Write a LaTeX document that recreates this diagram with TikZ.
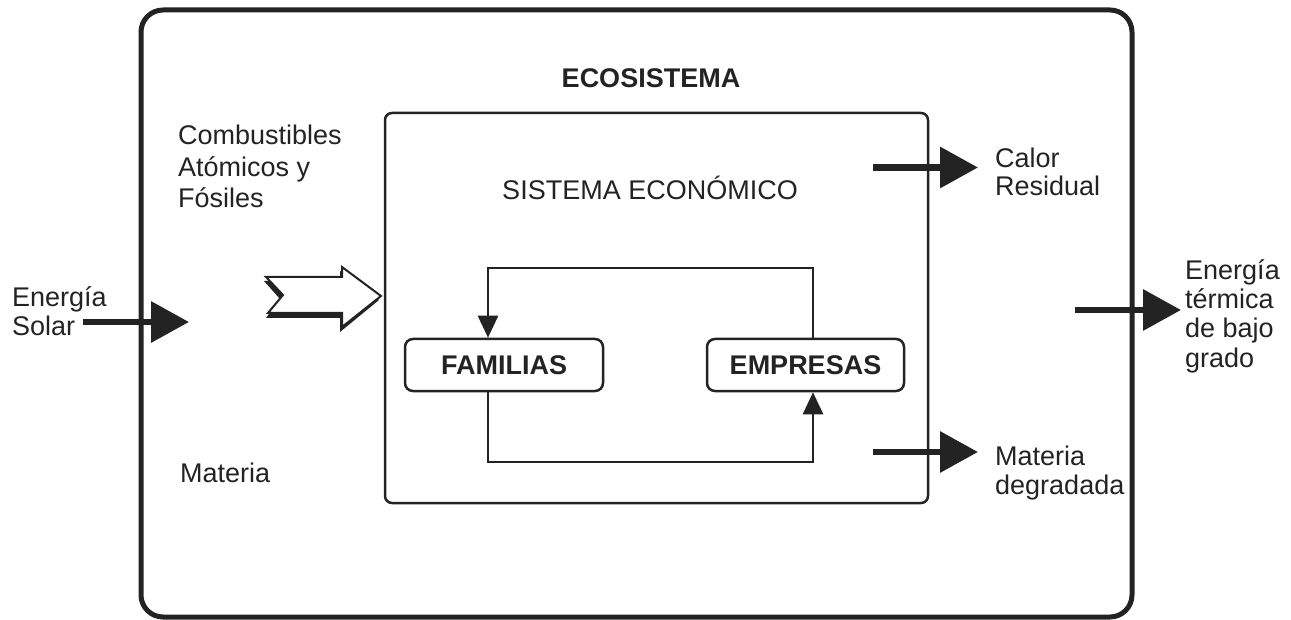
\documentclass[tikz,border=0pt]{standalone}
\usepackage{fontspec}
\setmainfont{Liberation Sans}
\usetikzlibrary{arrows.meta}
\definecolor{ink}{RGB}{35,35,35}
\begin{document}
\begin{tikzpicture}[x=1pt,y=-1pt,
  txt/.style={font=\fontsize{27}{29}\selectfont, inner sep=0pt, text=ink, anchor=base west},
  ctxt/.style={font=\fontsize{27}{29}\selectfont, inner sep=0pt, text=ink, anchor=base},
  boxnode/.style={draw=ink, line width=2.5pt, rounded corners=8pt, minimum height=52pt, inner sep=0pt,
                  font=\fontsize{27}{29}\selectfont\bfseries, text=ink},
  bigarrow/.style={draw=ink, line width=6.5pt, -{Triangle[length=38pt,width=40pt]}},
  loopline/.style={draw=ink, line width=2.5pt},
  looparrow/.style={draw=ink, line width=2.5pt, -{Triangle[length=22pt,width=20pt]}}]
\useasboundingbox (0,0) rectangle (1291,620);
% outer and inner frames
\draw[ink, line width=5pt, rounded corners=22pt] (141,10) rectangle (1132,617);
\draw[ink, line width=2.5pt, rounded corners=7pt] (385,113) rectangle (928,503);
% titles
\node[ctxt, font=\fontsize{27}{29}\selectfont\bfseries] (eco) at (651,88) {ECOSISTEMA};
\node[ctxt] (sise) at (650,200) {SISTEMA ECONÓMICO};
% left labels
\node[txt] (comb1) at (178,145) {Combustibles};
\node[txt] (comb2) at (178,177) {Atómicos y};
\node[txt] (comb3) at (178,208) {Fósiles};
\node[txt] (sol1) at (12,307) {Energía};
\node[txt] (sol2) at (12,336) {Solar};
\node[txt] (mat) at (180,482) {Materia};
% right labels
\node[txt] (cal1) at (995,168) {Calor};
\node[txt] (cal2) at (995,196) {Residual};
\node[txt] (ter1) at (1185,280) {Energía};
\node[txt] (ter2) at (1185,309) {térmica};
\node[txt] (ter3) at (1185,338) {de bajo};
\node[txt] (ter4) at (1185,367) {grado};
\node[txt] (deg1) at (995,465) {Materia};
\node[txt] (deg2) at (995,494) {degradada};
% boxes
\node[boxnode, minimum width=198pt] (fam) at (504,365) {FAMILIAS};
\node[boxnode, minimum width=197pt] (emp) at (805.5,365) {EMPRESAS};
% loop
\coordinate (lx) at (488,0);
\coordinate (rx) at (813,0);
\coordinate (looptop) at (0,268);
\coordinate (loopbot) at (0,462);
\draw[looparrow] (emp.north -| rx) |- (looptop -| lx) -- (fam.north -| lx);
\draw[looparrow] (fam.south -| lx) |- (loopbot -| rx) -- (emp.south -| rx);
% solid arrows
\coordinate (solA) at (83,322);
\coordinate (solB) at (189,322);
\coordinate (calA) at (873,167.5);
\coordinate (calB) at (978,167.5);
\coordinate (degA) at (873,452);
\coordinate (degB) at (978,452);
\coordinate (terA) at (1075,310);
\coordinate (terB) at (1181,310);
\draw[bigarrow] (solA) -- (solB);
\draw[bigarrow] (calA) -- (calB);
\draw[bigarrow] (degA) -- (degB);
\draw[bigarrow] (terA) -- (terB);
% hollow arrow with shadow
\fill[ink] (264,281) -- (340,281) -- (340,271) -- (379,300) -- (340,332) -- (340,318) -- (266,318) -- (280,299) -- cycle;
\draw[ink, fill=white, line width=2pt, line join=miter] (266,277) -- (342,277) -- (342,267) -- (381,296) -- (342,327) -- (342,313) -- (268,313) -- (283,295) -- cycle;
\end{tikzpicture}
\end{document}
